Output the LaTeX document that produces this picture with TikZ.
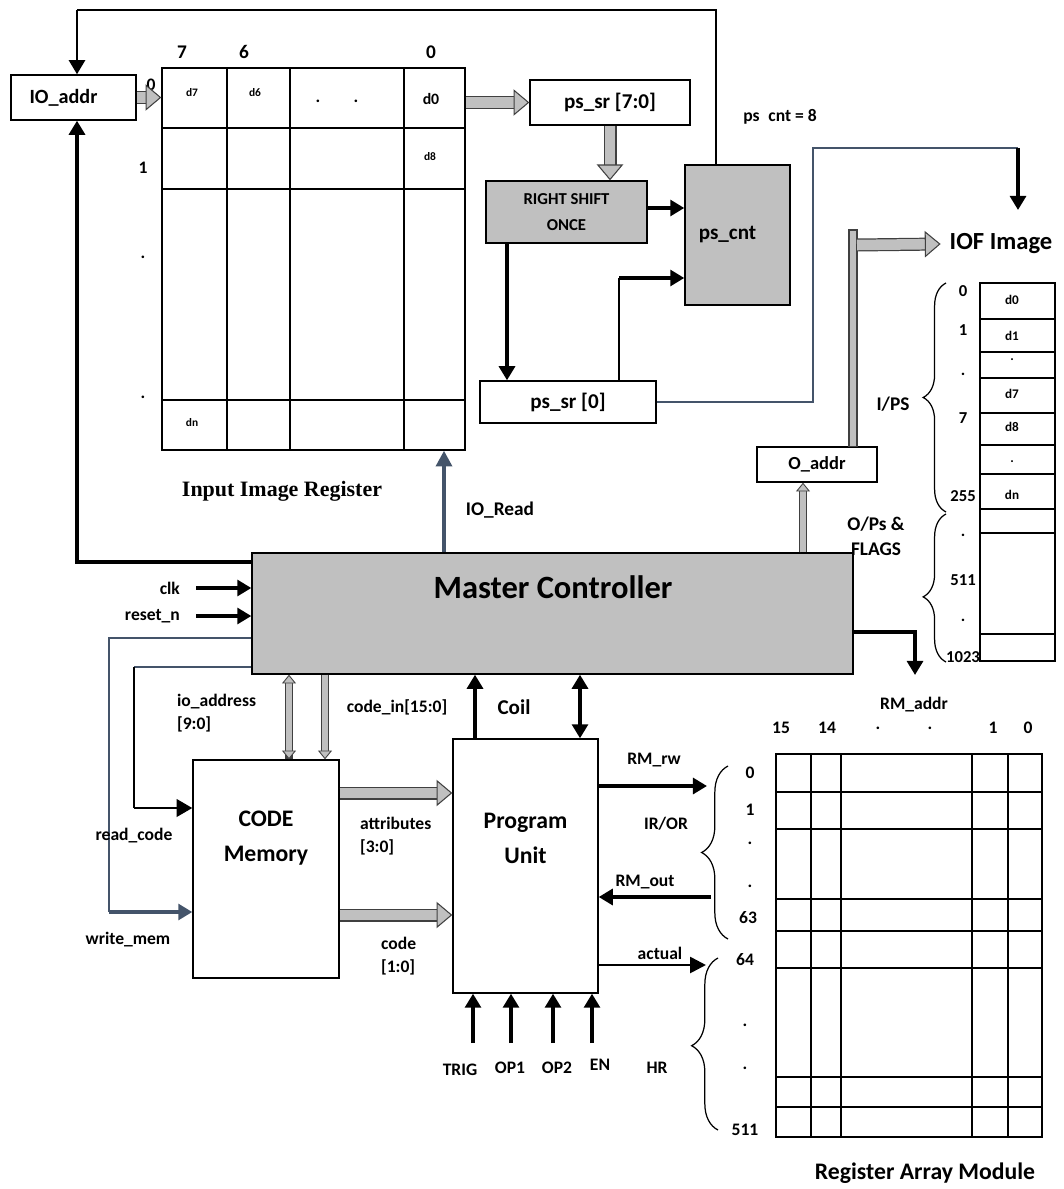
\documentclass[tikz,border=0pt]{standalone}
\usepackage{fontspec}
\setmainfont{Carlito}
\newfontfamily\timesfont{Liberation Serif}
\usetikzlibrary{arrows.meta,positioning,decorations.pathreplacing}
\definecolor{slate}{RGB}{68,84,106}
\definecolor{boxgray}{RGB}{192,192,192}
\tikzset{
  blk/.style={draw, line width=0.8pt, align=center, inner sep=1pt},
  gblk/.style={blk, fill=boxgray},
  lbl/.style={font=\bfseries\fontsize{10}{13}\selectfont, inner sep=1pt, align=left},
  cell/.style={font=\bfseries\fontsize{6.5}{8}\selectfont, inner sep=0pt},
  sig/.style={line width=2.2pt, -{Triangle[width=9pt,length=8pt]}},
  wire/.style={line width=0.7pt, draw=slate},
  bus/.style={line width=6pt, draw=boxgray, -{Triangle[width=15pt,length=9pt,fill=boxgray,color=black!75,line width=0.6pt]},
    preaction={draw=black!75, line width=7.4pt, -, shorten >=8pt}},
  thinbus/.style={line width=3.5pt, draw=boxgray, -{Triangle[width=8pt,length=5pt,fill=boxgray,color=black!75,line width=0.5pt]},
    preaction={draw=black!75, line width=4.7pt, -, shorten >=4pt}},
  busbar/.style={draw=black!75, fill=boxgray, line width=0.6pt},
  brc/.style={decorate, line width=0.7pt, decoration={brace, amplitude=13pt, aspect=#1}}
}

\begin{document}
\begin{tikzpicture}[x=0.02cm, y=-0.02cm]
\useasboundingbox (0,0) rectangle (1064,1189);

% blocks
\node[blk, minimum width=2.5cm, minimum height=0.9cm, font=\bfseries\fontsize{11.5}{14}\selectfont] (io) at (73.5,97.5) {IO\_addr\hspace{0.4cm}};
\node[draw, line width=0.8pt, minimum width=6.06cm, minimum height=7.64cm] (iir) at (313.5,259) {};
\node[blk, minimum width=3.2cm, minimum height=0.9cm, font=\bfseries\fontsize{12}{14}\selectfont] (pssr) at (610,102.5) {ps\_sr [7:0]};
\node[gblk, minimum width=3.22cm, minimum height=1.24cm, font=\bfseries\fontsize{9.5}{15}\selectfont] (rso) at (566.5,212) {RIGHT SHIFT\\ONCE};
\node[gblk, minimum width=2.1cm, minimum height=2.8cm, font=\bfseries\fontsize{12}{14}\selectfont] (pcnt) at (737.5,235) {ps\_cnt\hspace{0.4cm}};
\node[blk, minimum width=3.52cm, minimum height=0.84cm, font=\bfseries\fontsize{12}{14}\selectfont] (ps0) at (568,402) {ps\_sr [0]};
\node[blk, minimum width=2.4cm, minimum height=0.7cm, font=\bfseries\fontsize{10.5}{13}\selectfont] (oad) at (817,464.5) {O\_addr};
\node[gblk, minimum width=12.02cm, minimum height=2.42cm] (mc) at (552.5,613.5) {};
\node[font=\bfseries\fontsize{18.5}{22}\selectfont, inner sep=0pt] (mctxt) at (553,587) {Master Controller};
\node[blk, minimum width=2.92cm, minimum height=4.36cm, font=\bfseries\fontsize{13.5}{20}\selectfont] (cm) at (266,869) {CODE\\Memory\\[0.6cm]};
\node[blk, minimum width=2.9cm, minimum height=5.08cm, font=\bfseries\fontsize{13.5}{20}\selectfont] (pu) at (525.5,866) {Program\\Unit\\[0.4cm]};
\node[draw, line width=0.8pt, minimum width=1.5cm, minimum height=7.56cm] (iof) at (1017.5,472) {};
\node[draw, line width=0.8pt, minimum width=5.32cm, minimum height=7.66cm] (ram) at (909,945.5) {};

% input image register grid
\foreach \x in {227,290,404} \draw[line width=0.8pt] (\x,0 |- iir.north) -- (\x,0 |- iir.south);
\foreach \y in {128,189,400} \draw[line width=0.8pt] (iir.west |- 0,\y) -- (iir.east |- 0,\y);
\foreach \t/\x in {7/182,6/244,0/431} \node[lbl, font=\bfseries\fontsize{11}{13}\selectfont] (col\x) at (\x,52) {\t};
\foreach \t/\x/\y in {0/151/85,1/143/168,./143/257,./143/397} \node[lbl] (row\y) at (\x,\y) {\t};
\node[cell] (cd7) at (192,93) {d7};
\node[cell] (cd6) at (255,93) {d6};
\node[lbl] (cdot1) at (318,101) {.};
\node[lbl] (cdot2) at (356,101) {.};
\node[cell, font=\bfseries\fontsize{9}{10}\selectfont] (cd0) at (431,99) {d0};
\node[cell] (cd8) at (430,157) {d8};
\node[cell] (cdn) at (192,423) {dn};
\node[font=\timesfont\bfseries\fontsize{12.5}{14}\selectfont] (iirname) at (282,491) {Input Image Register};

% IOF image table
\foreach \y in {319,352,378,413,445,474,509,533,634} \draw[line width=0.8pt] (iof.west |- 0,\y) -- (iof.east |- 0,\y);
\foreach \t/\y in {d0/300,d1/336,./360,d7/394,d8/427,./462,dn/495} \node[cell, font=\bfseries\fontsize{7.5}{9}\selectfont] (iofc\y) at (1012,\y) {\t};
\foreach \t/\y in {0/291,1/330,./374,7/418,255/496,./535,511/580,./620,1023/657} \node[lbl, font=\bfseries\fontsize{9.5}{12}\selectfont] (iofr\y) at (963,\y) {\t};
\node[font=\bfseries\fontsize{14}{16}\selectfont, inner sep=0pt] (iofname) at (1001,244) {IOF Image};
\draw[brc=0.5] (946,512) -- (946,283);
\draw[brc=0.44] (946,662) -- (946,514);
\node[lbl, font=\bfseries\fontsize{11}{13}\selectfont] (ips) at (893,404) {I/PS};
\node[lbl, font=\bfseries\fontsize{11}{14}\selectfont, align=center] (ops) at (876,536) {O/Ps \&\\FLAGS};

% register array
\foreach \x in {811,841,972,1008} \draw[line width=0.8pt] (\x,0 |- ram.north) -- (\x,0 |- ram.south);
\foreach \y in {792,829,899,931,968,1077,1107} \draw[line width=0.8pt] (ram.west |- 0,\y) -- (ram.east |- 0,\y);
\node[lbl] (rmaddr) at (914,705) {RM\_addr};
\foreach \t/\x in {15/781,14/827,./878,./930,1/993,0/1028} \node[lbl] (bit\x) at (\x,728) {\t};
\foreach \t/\x/\y in {0/750/773,1/750/810,./750/843,./750/886,63/748/918,64/745/960,./745/1025,./745/1068,511/745/1130} \node[lbl] (reg\y) at (\x,\y) {\t};
\draw[brc=0.5, decoration={amplitude=15pt}] (728,939) -- (728,766);
\draw[brc=0.49, decoration={amplitude=15pt}] (718,1130) -- (718,958);
\node[font=\bfseries\fontsize{13.5}{16}\selectfont] (ramname) at (925,1173) {Register Array Module};

% image register path
\draw[bus] (io.east) -- (io.east -| iir.west);
\draw[bus] (pssr.west -| iir.east) -- (pssr.west);
\draw[bus] (pssr.south) -- (pssr.south |- rso.north);
\draw[sig] (rso.east |- 0,208) -- (pcnt.west |- 0,208);
\draw[sig] (507,0 |- rso.south) -- (507,0 |- ps0.north);
\coordinate (bend) at (619,278);
\draw[line width=1pt] (619,0 |- ps0.north) -- (bend);
\draw[sig] (bend) -- (bend -| pcnt.west);
\draw[line width=1.2pt] (716,0 |- pcnt.north) -- (716,10) -- (77,10);
\draw[line width=1.6pt, -{Triangle[width=9pt,length=8pt]}] (77,10) -- (77,0 |- io.north);
\draw[line width=2.6pt, -{Triangle[width=9pt,length=8pt]}] (mc.west |- 0,562) -| (77,0 |- io.south);
\draw[line width=2.4pt, slate, -{Triangle[width=9pt,length=9pt]}] (444,0 |- mc.north) -- (444,0 |- iir.south);
\node[lbl, font=\bfseries\fontsize{11}{13}\selectfont] (ioread) at (500,510) {IO\_Read};

% ps count to IOF image
\node[lbl] (pscnt8) at (780,117) {ps\hspace{5pt}cnt = 8};
\coordinate (iofin) at (1018,210);
\draw[wire] (ps0.east) -| (813,148) -- (1018,148);
\draw[sig] (1018,148) -- (iofin);
\draw[thinbus] (803,0 |- mc.north) -- (803,0 |- oad.south);
\coordinate (bartop) at (853,230);
\draw[busbar] (849,0 |- oad.north) rectangle (857,230);
\draw[bus] (857,245) -- ([xshift=-5pt]iofname.west);

% master controller inputs
\node[lbl, anchor=east] (clk) at (182,588) {clk};
\node[lbl, anchor=east] (rst) at (182,616) {reset\_n};
\draw[sig] ([xshift=8pt]clk.east) -- (clk.east -| mc.west);
\draw[sig] ([xshift=8pt]rst.east) -- (rst.east -| mc.west);
\draw[sig] (mc.east |- 0,632) -| (915,675);

% code memory
\coordinate (wm) at (109,912);
\coordinate (rc) at (134,808);
\draw[wire] (mc.west |- 0,638) -| (wm);
\draw[line width=2.2pt, slate, -{Triangle[width=9pt,length=8pt]}] (wm) -- (wm -| cm.west);
\draw[wire] (mc.west |- 0,667) -- (rc |- 0,667);
\draw[line width=0.9pt] (rc |- 0,667) -- (rc);
\draw[line width=1.5pt, -{Triangle[width=10pt,length=9pt]}] (rc) -- (rc -| cm.west);
\node[lbl] (rdcode) at (134,836) {read\_code};
\node[lbl] (wrmem) at (128,940) {write\_mem};
\draw[thinbus, {Triangle[width=8pt,length=5pt,fill=boxgray,color=black!75,line width=0.5pt]}-{Triangle[width=8pt,length=5pt,fill=boxgray,color=black!75,line width=0.5pt]},
  preaction={shorten <=4pt}] (289,0 |- cm.north) -- (289,0 |- mc.south);
\draw[thinbus] (325,0 |- mc.south) -- (325,0 |- cm.north);
\node[lbl, anchor=north west] (ioaddr) at (175,692) {io\_address\\{[9:0]}};
\node[lbl] (codein) at (397,707) {code\_in[15:0]};
\draw[bus] (cm.east |- 0,793) -- (pu.west |- 0,793);
\draw[bus] (cm.east |- 0,915) -- (pu.west |- 0,915);
\node[lbl, anchor=north west] (attr) at (358,815) {attributes\\{[3:0]}};
\node[lbl, anchor=north west] (code) at (379,935) {code\\{[1:0]}};

% program unit
\draw[sig] (475,0 |- pu.north) -- (475,0 |- mc.south);
\node[lbl, font=\bfseries\fontsize{12}{14}\selectfont] (coil) at (514,707) {Coil};
\draw[sig, {Triangle[width=9pt,length=8pt]}-{Triangle[width=9pt,length=8pt]}] (580,0 |- pu.north) -- (580,0 |- mc.south);
\coordinate (rwend) at (707,786);
\coordinate (outstart) at (711,897);
\coordinate (actend) at (706,965);
\draw[sig] (pu.east |- rwend) -- (rwend);
\draw[sig] (outstart) -- (pu.east |- outstart);
\draw[line width=1.5pt, -{Triangle[width=9pt,length=9pt]}] (pu.east |- actend) -- (actend);
\node[lbl] (rmrw) at (654,760) {RM\_rw};
\node[lbl] (iror) at (666,824) {IR/OR};
\node[lbl] (rmout) at (645,882) {RM\_out};
\node[lbl] (actual) at (660,953) {actual};
\foreach \x in {473,511,553,592} \draw[sig] (\x,1043) -- (\x,0 |- pu.south);
\foreach \t/\x/\y in {TRIG/460/1070,OP1/510/1068,OP2/557/1068,EN/600/1065,HR/657/1068} \node[lbl] (in\t) at (\x,\y) {\t};
\end{tikzpicture}
\end{document}
